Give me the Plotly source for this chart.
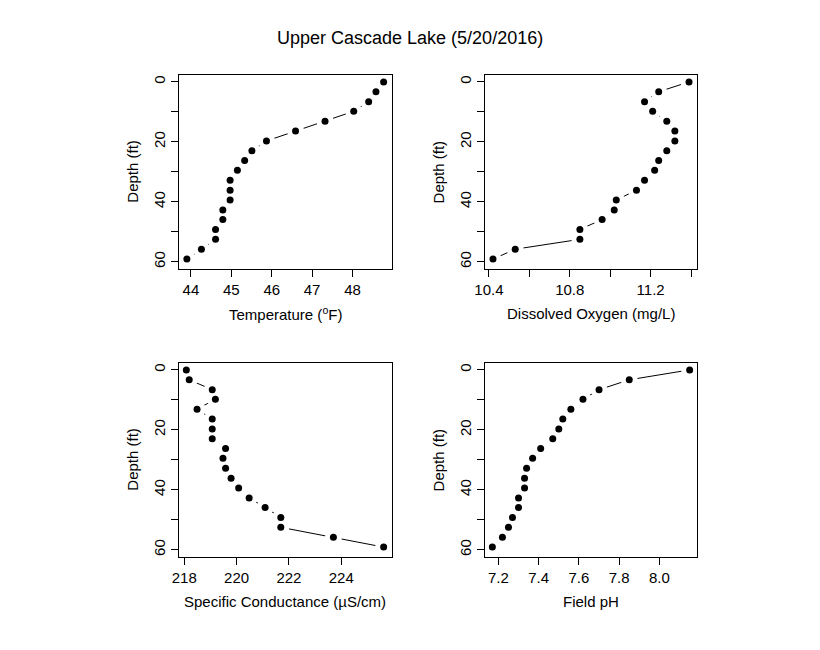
import plotly.graph_objects as go

# ---------------- data ----------------
depth_ft = [0, 3.3, 6.6, 9.8, 13.1, 16.4, 19.7, 23.0, 26.2, 29.5, 32.8,
            36.1, 39.4, 42.7, 45.9, 49.2, 52.5, 55.8, 59.1]
temperature_f = [48.77, 48.58, 48.40, 48.03, 47.32, 46.59, 45.87, 45.51, 45.33, 45.15,
                 44.97, 44.97, 44.97, 44.79, 44.79, 44.61, 44.61, 44.26, 43.90]
dissolved_oxygen = [11.39, 11.24, 11.17, 11.21, 11.28, 11.32, 11.32, 11.28, 11.24, 11.22,
                    11.17, 11.13, 11.03, 11.02, 10.96, 10.85, 10.85, 10.53, 10.42]
conductance = [218.08, 218.19, 219.07, 219.19, 218.49, 219.07, 219.07, 219.07, 219.58, 219.48,
               219.58, 219.79, 220.08, 220.48, 221.09, 221.69, 221.69, 223.70, 225.62]
field_ph = [8.15, 7.85, 7.70, 7.62, 7.56, 7.52, 7.50, 7.47, 7.41, 7.37,
            7.34, 7.33, 7.33, 7.30, 7.30, 7.27, 7.25, 7.22, 7.17]

title_text = "Upper Cascade Lake (5/20/2016)"
y_title = "Depth (ft)"
x_titles = ["Temperature (<sup>o</sup>F)", "Dissolved Oxygen (mg/L)",
            "Specific Conductance (µS/cm)", "Field pH"]

depth_ticks = [0, 20, 40, 60]
depth_minor = [10, 30, 50]
temp_ticks = [44, 45, 46, 47, 48]
do_ticks = [10.4, 10.8, 11.2]
do_minor = [10.6, 11.0, 11.4]
cond_ticks = [218, 220, 222, 224]
ph_ticks = [7.2, 7.4, 7.6, 7.8, 8.0]

# ---------------- layout geometry (pixels) ----------------
W, H = 820, 650
panels = [
    dict(x=temperature_f, xr=[43.705, 48.965], tv=temp_ticks, mv=[],
         fmt=".0f", px=(179, 391.5), py=(74.7, 268.7)),
    dict(x=dissolved_oxygen, xr=[10.379, 11.431], tv=do_ticks, mv=do_minor,
         fmt=".1f", px=(484.7, 697.3), py=(74.7, 268.7)),
    dict(x=conductance, xr=[217.80, 225.92], tv=cond_ticks, mv=[],
         fmt=".0f", px=(179, 391.5), py=(362.7, 556.7)),
    dict(x=field_ph, xr=[7.132, 8.188], tv=ph_ticks, mv=[],
         fmt=".1f", px=(484.7, 697.3), py=(362.7, 556.7)),
]
y_range = [62.3, -2.4]

FONT = "Liberation Sans, Arial, Helvetica, sans-serif"
fig = go.Figure()

for i, p in enumerate(panels):
    n = "" if i == 0 else str(i + 1)
    xa, ya = "x" + n, "y" + n
    # connecting line
    fig.add_trace(go.Scatter(x=p["x"], y=depth_ft, mode="lines",
                             line=dict(color="black", width=1),
                             xaxis=xa, yaxis=ya, hoverinfo="skip", showlegend=False))
    # gaps around points (type "b")
    fig.add_trace(go.Scatter(x=p["x"], y=depth_ft, mode="markers",
                             marker=dict(color="white", size=17, line=dict(width=0)),
                             xaxis=xa, yaxis=ya, hoverinfo="skip", showlegend=False))
    # points
    fig.add_trace(go.Scatter(x=p["x"], y=depth_ft, mode="markers",
                             marker=dict(color="black", size=7, line=dict(width=0)),
                             xaxis=xa, yaxis=ya, showlegend=False))

    common = dict(showgrid=False, zeroline=False, showline=True, mirror=True,
                  linecolor="black", linewidth=1, ticks="outside", ticklen=7,
                  tickwidth=1, tickcolor="black",
                  tickfont=dict(family=FONT, size=15, color="black"))
    xminor = dict(tickmode="array", tickvals=p["mv"], ticks="outside", ticklen=7,
                  tickwidth=1, tickcolor="black", showgrid=False) if p["mv"] else None
    xax = dict(domain=[p["px"][0] / W, p["px"][1] / W], anchor=ya,
               range=p["xr"], tickmode="array", tickvals=p["tv"],
               tickformat=p["fmt"], **common)
    if xminor:
        xax["minor"] = xminor
    fig.layout["xaxis" + n] = xax
    fig.layout["yaxis" + n] = dict(
        domain=[1 - p["py"][1] / H, 1 - p["py"][0] / H], anchor=xa,
        range=y_range, tickmode="array", tickvals=depth_ticks, tickformat=".0f",
        minor=dict(tickmode="array", tickvals=depth_minor, ticks="outside", ticklen=7,
                   tickwidth=1, tickcolor="black", showgrid=False),
        tickangle=-90, **common)

    cx = (p["px"][0] + p["px"][1]) / 2
    fig.add_annotation(x=cx / W, y=1 - (p["py"][1] + 45) / H, xref="paper", yref="paper",
                       text=x_titles[i], showarrow=False,
                       font=dict(family=FONT, size=15, color="black"),
                       xanchor="center", yanchor="middle")
    cy = (p["py"][0] + p["py"][1]) / 2
    fig.add_annotation(x=(p["px"][0] - 46) / W, y=1 - cy / H, xref="paper", yref="paper",
                       text=y_title, showarrow=False, textangle=-90,
                       font=dict(family=FONT, size=15, color="black"),
                       xanchor="center", yanchor="middle")

fig.add_annotation(x=410 / W, y=1 - 38 / H, xref="paper", yref="paper",
                   text=title_text, showarrow=False,
                   font=dict(family=FONT, size=18, color="black"),
                   xanchor="center", yanchor="middle")

fig.update_layout(width=W, height=H, template="none",
                  margin=dict(l=0, r=0, t=0, b=0),
                  paper_bgcolor="white", plot_bgcolor="white",
                  showlegend=False)

fig.write_html("out.html")
